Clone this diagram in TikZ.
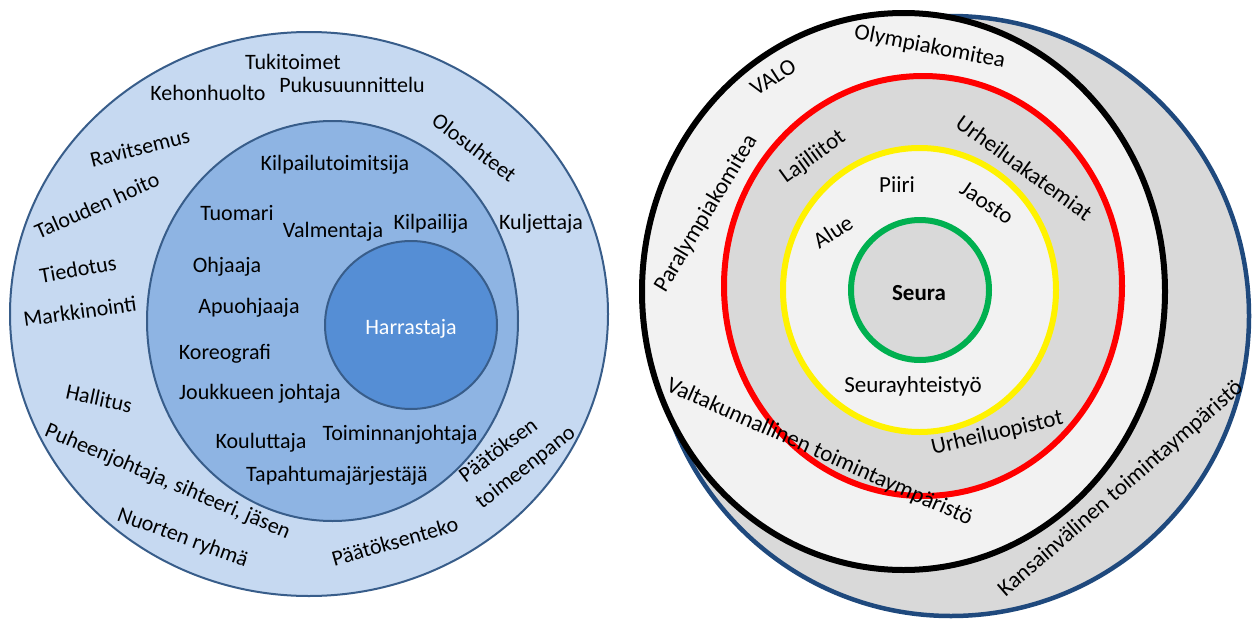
\documentclass[tikz,border=0pt]{standalone}
\usepackage{fontspec}
\setmainfont{Carlito}
\definecolor{ringA}{HTML}{C6D9F1}
\definecolor{ringB}{HTML}{8EB4E3}
\definecolor{ringC}{HTML}{558ED5}
\definecolor{ringline}{HTML}{385D8A}
\definecolor{paleg}{HTML}{F2F2F2}
\definecolor{midg}{HTML}{D9D9D9}
\definecolor{navy}{HTML}{1F497D}
\definecolor{grn}{HTML}{00B050}
\tikzset{
  lbl/.style={inner sep=0pt, font=\fontsize{22}{26}\selectfont, text height=15pt, text depth=1pt},
  rlbl/.style={inner sep=0pt, font=\fontsize{23}{27}\selectfont, text height=16pt, text depth=1pt},
  bluering/.style={draw=ringline, line width=2pt},
  ring/.style={line width=6pt}
}
\begin{document}
\begin{tikzpicture}[x=1pt,y=-1pt]
\useasboundingbox (0,0) rectangle (1256,621);
\fill[white] (0,0) rectangle (1256,621);

% ---- left: nested blue ellipses ----
\path[bluering, fill=ringA] (309,314) ellipse [x radius=299pt, y radius=282pt];
\path[bluering, fill=ringB] (332.5,321) ellipse [x radius=185.5pt, y radius=200pt];
\path[bluering, fill=ringC] (411,325) ellipse [x radius=86pt, y radius=84pt];

\node[lbl] (tuki) at (293,62) {Tukitoimet};
\node[lbl] (keho) at (208,93) {Kehonhuolto};
\node[lbl] (puku) at (352,85) {Pukusuunnittelu};
\node[lbl, rotate=-37] (olo) at (474,148) {Olosuhteet};
\node[lbl, rotate=14] (ravi) at (140,148) {Ravitsemus};
\node[lbl] (ktoim) at (335,163) {Kilpailutoimitsija};
\node[lbl, rotate=24] (talous) at (97,206) {Talouden hoito};
\node[lbl] (tuomari) at (237,213) {Tuomari};
\node[lbl] (valm) at (333,230) {Valmentaja};
\node[lbl] (kilp) at (431,222) {Kilpailija};
\node[lbl] (kulj) at (541,222) {Kuljettaja};
\node[lbl, rotate=10] (tied) at (78,270) {Tiedotus};
\node[lbl] (ohj) at (227,265) {Ohjaaja};
\node[lbl, rotate=8] (mark) at (80,312) {Markkinointi};
\node[lbl] (apu) at (249,306) {Apuohjaaja};
\node[lbl, text=white] (harr) at (411,327) {Harrastaja};
\node[lbl] (kore) at (225,352) {Koreografi};
\node[lbl, rotate=-12] (hall) at (99,399) {Hallitus};
\node[lbl] (jouk) at (260,392) {Joukkueen johtaja};
\node[lbl, rotate=-23] (puh) at (168,481) {Puheenjohtaja, sihteeri, jäsen};
\node[lbl] (koul) at (261,441) {Kouluttaja};
\node[lbl] (toim) at (400,433) {Toiminnanjohtaja};
\node[lbl] (tapa) at (337,474) {Tapahtumajärjestäjä};
\node[lbl, rotate=37] (paat) at (498,450) {Päätöksen};
\node[lbl, rotate=38] (toimp) at (525,467) {toimeenpano};
\node[lbl, rotate=-20] (nuor) at (183,537) {Nuorten ryhmä};
\node[lbl, rotate=16] (paatt) at (395,542) {Päätöksenteko};

% ---- right: coloured rings on grey discs ----
\path[draw=navy, line width=4.5pt, fill=midg] (951,316) ellipse [x radius=298pt, y radius=300pt];
\path[ring, draw=black, fill=paleg] (903.5,291.5) ellipse [x radius=261.5pt, y radius=278.5pt];
\path[ring, draw=red, fill=midg] (923,286) ellipse [x radius=199pt, y radius=210pt];
\path[ring, draw=yellow, fill=paleg] (919.5,290) ellipse [x radius=136.5pt, y radius=142pt];
\path[ring, draw=grn, fill=midg] (920,290) ellipse [x radius=69pt, y radius=70pt];

\node[rlbl, rotate=-11] (olymp) at (930,46) {Olympiakomitea};
\node[rlbl, rotate=33] (valo) at (773,77) {VALO};
\node[rlbl, rotate=59] (para) at (705,213) {Paralympiakomitea};
\node[rlbl, rotate=36] (laji) at (812,156) {Lajiliitot};
\node[rlbl, rotate=-36] (akat) at (1024,168) {Urheiluakatemiat};
\node[rlbl] (piiri) at (897,185) {Piiri};
\node[rlbl, rotate=-34] (jaosto) at (987,203) {Jaosto};
\node[rlbl, rotate=33] (alue) at (833,232) {Alue};
\node[rlbl, font=\fontsize{23}{27}\selectfont\bfseries] (seura) at (919,293) {Seura};
\node[rlbl] (yht) at (913,385) {Seurayhteistyö};
\node[rlbl, rotate=13] (opist) at (997,432) {Urheiluopistot};
\node[rlbl, rotate=-24] (valtak) at (820,451) {Valtakunnallinen toimintaympäristö};
\node[rlbl, rotate=41] (kansa) at (1120,488) {Kansainvälinen toimintaympäristö};
\end{tikzpicture}
\end{document}
